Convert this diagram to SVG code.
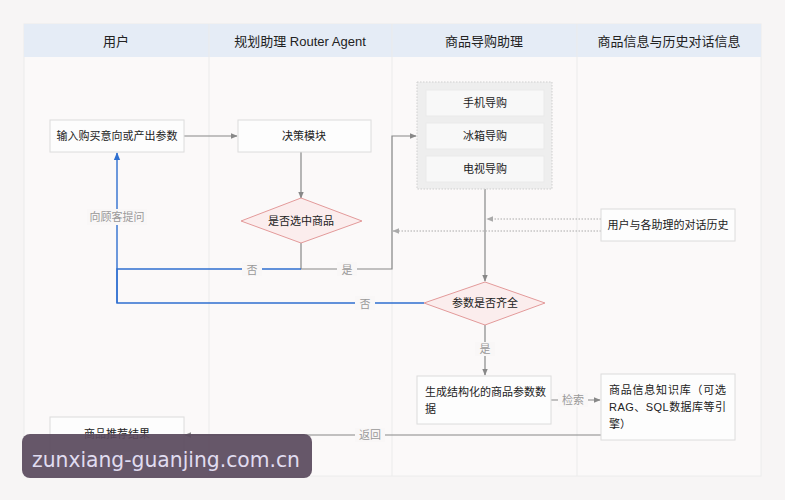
<svg xmlns="http://www.w3.org/2000/svg" width="785" height="500" viewBox="0 0 785 500">
<style>
text{font-family:"Liberation Sans","Noto Sans CJK SC",sans-serif;fill:#222;}
.hd{font-size:13px;text-anchor:middle;}
.nt{font-size:11px;text-anchor:middle;}
.lb{font-size:11px;text-anchor:middle;fill:#999;}
.box{fill:#fdfdfd;stroke:#dcdcdc;stroke-width:1;}
.dia{fill:#fbeded;stroke:#e39a9a;stroke-width:1;}
.sub{fill:#f8f8f8;stroke:#eaeaea;}
.g{stroke:#888;stroke-width:1.2;fill:none;}
.b{stroke:#2f6fd0;stroke-width:1.4;fill:none;}
.d{stroke:#aaa;stroke-width:1;stroke-dasharray:1.5 1.5;fill:none;}
.lbg{fill:#f9f7f7;}
</style>
<defs>
<marker id="ag" viewBox="0 0 10 10" refX="9" refY="5" markerWidth="7" markerHeight="7" orient="auto-start-reverse" markerUnits="userSpaceOnUse"><path d="M0,1 L10,5 L0,9 z" fill="#888"/></marker>
<marker id="ab" viewBox="0 0 10 10" refX="9" refY="5" markerWidth="8" markerHeight="8" orient="auto-start-reverse" markerUnits="userSpaceOnUse"><path d="M0,1 L10,5 L0,9 z" fill="#2f6fd0"/></marker>
<marker id="ad" viewBox="0 0 10 10" refX="9" refY="5" markerWidth="7" markerHeight="7" orient="auto-start-reverse" markerUnits="userSpaceOnUse"><path d="M0,1 L10,5 L0,9 z" fill="#aaa"/></marker>
</defs>
<rect x="0" y="0" width="785" height="500" fill="#f7f5f5"/>
<g id="lanes">
<rect x="24" y="24" width="737" height="452" fill="#fbf9f9" stroke="#ececec"/>
<rect x="24" y="24" width="737" height="33" fill="#e5ecf6"/>
<line x1="209" y1="24" x2="209" y2="476" stroke="#ebebeb"/>
<line x1="392" y1="24" x2="392" y2="476" stroke="#ebebeb"/>
<line x1="577" y1="24" x2="577" y2="476" stroke="#ebebeb"/>
<text class="hd" x="116" y="46">用户</text>
<text class="hd" x="300" y="46">规划助理 Router Agent</text>
<text class="hd" x="484" y="46">商品导购助理</text>
<text class="hd" x="669" y="46">商品信息与历史对话信息</text>
</g>
<g id="connectors">
<line class="g" x1="184" y1="136" x2="237" y2="136" marker-end="url(#ag)"/>
<line class="g" x1="301" y1="152" x2="301" y2="198" marker-end="url(#ag)"/>
<polyline class="g" points="301,243 301,269 392,269 392,136 416,136" marker-end="url(#ag)"/>
<rect class="lbg" x="337" y="262" width="20" height="14"/>
<text class="lb" x="347" y="274">是</text>
<polyline class="b" points="301,269 117,269 117,303 424,303"/>
<line class="b" x1="117" y1="303" x2="117" y2="153" marker-end="url(#ab)"/>
<rect class="lbg" x="242" y="262" width="20" height="14"/>
<text class="lb" x="252" y="274">否</text>
<rect class="lbg" x="355" y="296" width="20" height="14"/>
<text class="lb" x="365" y="308">否</text>
<rect class="lbg" x="87" y="209" width="60" height="16"/>
<text class="lb" x="117" y="221">向顾客提问</text>
<line class="g" x1="485" y1="189" x2="485" y2="281" marker-end="url(#ag)"/>
<line class="d" x1="601" y1="219" x2="487" y2="219" marker-end="url(#ad)"/>
<line class="d" x1="601" y1="231" x2="393" y2="231" marker-end="url(#ad)"/>
<line class="g" x1="485" y1="325" x2="485" y2="375" marker-end="url(#ag)"/>
<rect class="lbg" x="475" y="342" width="20" height="14"/>
<text class="lb" x="485" y="353">是</text>
<line class="g" x1="551" y1="400" x2="600" y2="400" stroke="#aaa" marker-end="url(#ag)"/>
<rect class="lbg" x="558" y="393" width="30" height="14"/>
<text class="lb" x="573" y="404">检索</text>
<line class="g" x1="601" y1="435" x2="185" y2="435" marker-end="url(#ag)"/>
<rect class="lbg" x="355" y="428" width="30" height="14"/>
<text class="lb" x="370" y="439">返回</text>
</g>
<g id="n-input"><rect class="box" x="50" y="120" width="134" height="32"/><text class="nt" x="117" y="140">输入购买意向或产出参数</text></g>
<g id="n-decide"><rect class="box" x="238" y="120" width="133" height="32"/><text class="nt" x="304" y="140">决策模块</text></g>
<g id="n-sel"><polygon class="dia" points="301,198 362,221 301,243 241,221"/><text class="nt" x="301" y="225">是否选中商品</text></g>
<g id="n-group">
<rect x="417" y="82" width="135" height="107" fill="#eeeeee" stroke="#cfcfcf" stroke-dasharray="1.5 1.5"/>
<rect class="sub" x="426" y="90" width="118" height="26"/><text class="nt" x="485" y="107">手机导购</text>
<rect class="sub" x="426" y="123" width="118" height="26"/><text class="nt" x="485" y="140">冰箱导购</text>
<rect class="sub" x="426" y="156" width="118" height="26"/><text class="nt" x="485" y="173">电视导购</text>
</g>
<g id="n-hist"><rect class="box" x="601" y="209" width="134" height="32"/><text class="nt" x="668" y="229">用户与各助理的对话历史</text></g>
<g id="n-param"><polygon class="dia" points="485,282 545,303 485,325 424,303"/><text class="nt" x="485" y="307">参数是否齐全</text></g>
<g id="n-gen"><rect class="box" x="417" y="376" width="134" height="48"/><text class="nt" style="text-anchor:start" x="425" y="396">生成结构化的商品参数数</text><text class="nt" style="text-anchor:start" x="425" y="413">据</text></g>
<g id="n-kb"><rect class="box" x="601" y="374" width="134" height="66"/>
<text class="nt" style="text-anchor:start" x="609" y="394" textLength="117" lengthAdjust="spacing">商品信息知识库（可选</text>
<text class="nt" style="text-anchor:start" x="609" y="411" textLength="117" lengthAdjust="spacing">RAG、SQL数据库等引</text>
<text class="nt" style="text-anchor:start" x="609" y="428">擎）</text></g>
<g id="n-result"><rect class="box" x="50" y="417" width="134" height="34"/><text class="nt" x="117" y="438">商品推荐结果</text></g>
<g id="watermark"><rect x="22" y="434" width="290" height="44" rx="8" fill="#5a4a5e" opacity="0.93"/><text x="32" y="467" textLength="268" lengthAdjust="spacingAndGlyphs" style="font-family:'DejaVu Sans',sans-serif;font-size:21px;fill:#e0dcf0">zunxiang-guanjing.com.cn</text></g>
</svg>
